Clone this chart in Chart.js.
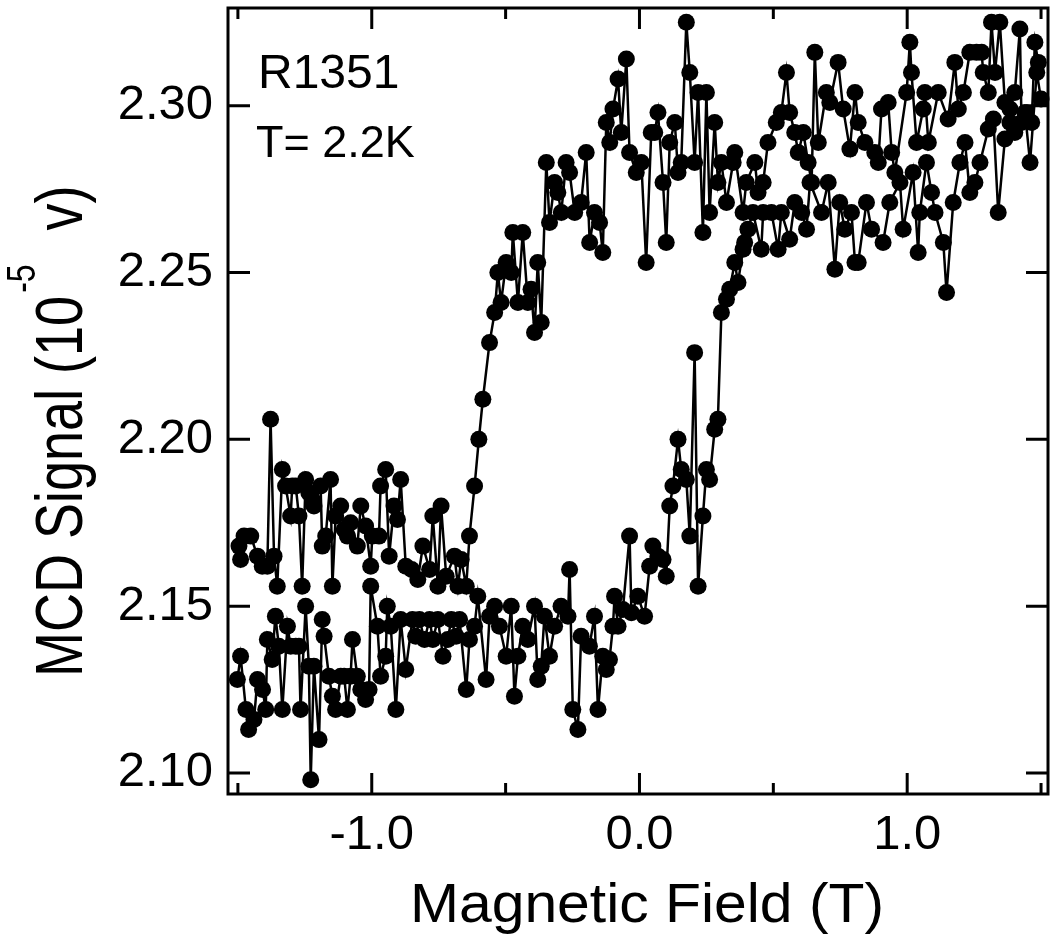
<!DOCTYPE html>
<html>
<head>
<meta charset="utf-8">
<script src="https://cdn.jsdelivr.net/npm/chart.js@4.4.1/dist/chart.umd.min.js"></script>
<style>
    html, body { margin: 0; padding: 0; background: #fff; }
    #wrap { width: 1050px; height: 939px; }
</style>
</head>
<body>
<div id="wrap"><canvas id="mcdChart" width="1050" height="939"></canvas></div>
<script>
// Increasing field sweep (lower branch)
const fieldUp = [
    -1.502, -1.490, -1.470, -1.460, -1.440, -1.427, -1.408, -1.396, -1.390, -1.372,
    -1.360, -1.347, -1.334, -1.315, -1.303, -1.284, -1.272, -1.266, -1.247, -1.235,
    -1.228, -1.216, -1.197, -1.185, -1.178, -1.160, -1.147, -1.135, -1.116, -1.103,
    -1.091, -1.079, -1.072, -1.054, -1.041, -1.023, -1.010, -1.004, -0.979, -0.967,
    -0.948, -0.942, -0.929, -0.910, -0.892, -0.873, -0.848, -0.836, -0.822, -0.803,
    -0.784, -0.772, -0.753, -0.734, -0.716, -0.703, -0.685, -0.672, -0.647, -0.635,
    -0.616, -0.604, -0.573, -0.560, -0.541, -0.523, -0.498, -0.479, -0.467, -0.454,
    -0.436, -0.417, -0.392, -0.380, -0.367, -0.355, -0.336, -0.317, -0.293, -0.267,
    -0.261, -0.249, -0.230, -0.218, -0.187, -0.168, -0.155, -0.137, -0.124, -0.112,
    -0.099, -0.093, -0.080, -0.062, -0.037, -0.030, -0.006, 0.019, 0.038, 0.050,
    0.069, 0.088, 0.100, 0.113, 0.125, 0.144, 0.156, 0.175, 0.188, 0.206,
    0.219, 0.237, 0.250, 0.262, 0.281, 0.293, 0.306, 0.325, 0.337, 0.356,
    0.368, 0.387, 0.393, 0.405, 0.424, 0.455, 0.462, 0.493, 0.518, 0.530,
    0.561, 0.580, 0.606, 0.624, 0.637, 0.680, 0.705, 0.730, 0.748, 0.767,
    0.792, 0.805, 0.817, 0.848, 0.867, 0.910, 0.935, 0.973, 0.985, 1.022,
    1.041, 1.047, 1.072, 1.091, 1.104, 1.135, 1.147, 1.172, 1.197, 1.216,
    1.234, 1.253, 1.272, 1.303, 1.322, 1.340, 1.365, 1.384, 1.402, 1.440,
    1.459, 1.484, 1.500
];
const signalUp = [
    2.128, 2.135, 2.119, 2.113, 2.116, 2.128, 2.125, 2.119, 2.140, 2.134,
    2.147, 2.138, 2.119, 2.144, 2.138, 2.138, 2.138, 2.119, 2.150, 2.132,
    2.098, 2.132, 2.110, 2.146, 2.141, 2.129, 2.123, 2.119, 2.129, 2.129,
    2.119, 2.129, 2.140, 2.129, 2.125, 2.122, 2.125, 2.156, 2.144, 2.129,
    2.135, 2.150, 2.144, 2.119, 2.146, 2.131, 2.146, 2.141, 2.146, 2.140,
    2.146, 2.140, 2.146, 2.135, 2.140, 2.146, 2.141, 2.146, 2.125, 2.140,
    2.144, 2.153, 2.128, 2.147, 2.150, 2.144, 2.135, 2.150, 2.123, 2.135,
    2.144, 2.140, 2.150, 2.128, 2.132, 2.147, 2.135, 2.144, 2.150, 2.147,
    2.161, 2.119, 2.113, 2.141, 2.138, 2.147, 2.119, 2.135, 2.131, 2.134,
    2.144, 2.153, 2.144, 2.149, 2.171, 2.148, 2.153, 2.147, 2.162, 2.168,
    2.165, 2.164, 2.159, 2.180, 2.186, 2.200, 2.191, 2.188, 2.171, 2.226,
    2.156, 2.177, 2.191, 2.188, 2.203, 2.206, 2.238, 2.242, 2.245, 2.253,
    2.247, 2.257, 2.259, 2.263, 2.268, 2.257, 2.268, 2.268, 2.257, 2.268,
    2.260, 2.271, 2.268, 2.263, 2.277, 2.268, 2.277, 2.251, 2.271, 2.263,
    2.268, 2.253, 2.253, 2.271, 2.263, 2.259, 2.271, 2.277, 2.263, 2.280,
    2.256, 2.268, 2.283, 2.274, 2.268, 2.259, 2.244, 2.271, 2.283, 2.289,
    2.274, 2.277, 2.283, 2.293, 2.296, 2.268, 2.290, 2.295, 2.292, 2.298,
    2.283, 2.310, 2.302
];

// Decreasing field sweep (upper branch), listed from low to high field
const fieldDown = [
    -1.496, -1.490, -1.477, -1.452, -1.427, -1.409, -1.390, -1.378, -1.365, -1.353,
    -1.334, -1.322, -1.303, -1.297, -1.284, -1.272, -1.260, -1.247, -1.235, -1.222,
    -1.216, -1.191, -1.185, -1.172, -1.154, -1.147, -1.135, -1.116, -1.103, -1.091,
    -1.079, -1.054, -1.041, -1.023, -1.004, -0.998, -0.973, -0.967, -0.948, -0.935,
    -0.917, -0.904, -0.892, -0.873, -0.851, -0.828, -0.809, -0.784, -0.772, -0.753,
    -0.741, -0.722, -0.691, -0.678, -0.666, -0.647, -0.635, -0.616, -0.600, -0.585,
    -0.560, -0.541, -0.529, -0.517, -0.498, -0.479, -0.473, -0.454, -0.436, -0.417,
    -0.405, -0.392, -0.380, -0.367, -0.348, -0.336, -0.317, -0.305, -0.292, -0.274,
    -0.261, -0.242, -0.218, -0.199, -0.186, -0.168, -0.149, -0.137, -0.124, -0.111,
    -0.099, -0.080, -0.068, -0.049, -0.037, -0.012, 0.007, 0.025, 0.044, 0.057,
    0.069, 0.088, 0.100, 0.113, 0.132, 0.144, 0.156, 0.175, 0.188, 0.206,
    0.219, 0.237, 0.250, 0.262, 0.281, 0.293, 0.306, 0.325, 0.350, 0.356,
    0.387, 0.399, 0.431, 0.443, 0.462, 0.480, 0.511, 0.530, 0.549, 0.561,
    0.580, 0.593, 0.612, 0.630, 0.643, 0.655, 0.668, 0.698, 0.711, 0.742,
    0.761, 0.786, 0.805, 0.817, 0.842, 0.879, 0.892, 0.904, 0.929, 0.942,
    0.954, 0.998, 1.010, 1.016, 1.035, 1.060, 1.066, 1.079, 1.116, 1.153,
    1.178, 1.191, 1.210, 1.234, 1.259, 1.278, 1.284, 1.303, 1.315, 1.328,
    1.346, 1.365, 1.384, 1.402, 1.421, 1.427, 1.465, 1.477, 1.490
];
const signalDown = [
    2.168, 2.164, 2.171, 2.171, 2.165, 2.162, 2.162, 2.206, 2.165, 2.156,
    2.191, 2.186, 2.177, 2.186, 2.186, 2.177, 2.156, 2.188, 2.184, 2.182,
    2.180, 2.186, 2.168, 2.171, 2.188, 2.156, 2.177, 2.180, 2.173, 2.171,
    2.175, 2.168, 2.180, 2.174, 2.162, 2.171, 2.171, 2.186, 2.191, 2.165,
    2.180, 2.176, 2.188, 2.162, 2.161, 2.158, 2.168, 2.161, 2.177, 2.156,
    2.180, 2.159, 2.165, 2.156, 2.164, 2.156, 2.171, 2.186, 2.200, 2.212,
    2.229, 2.238, 2.250, 2.241, 2.253, 2.250, 2.262, 2.241, 2.262, 2.241,
    2.245, 2.232, 2.253, 2.235, 2.283, 2.265, 2.277, 2.274, 2.268, 2.283,
    2.280, 2.268, 2.271, 2.286, 2.259, 2.268, 2.265, 2.256, 2.295, 2.289,
    2.299, 2.308, 2.292, 2.314, 2.286, 2.280, 2.283, 2.253, 2.292, 2.292,
    2.298, 2.277, 2.259, 2.289, 2.295, 2.280, 2.283, 2.325, 2.310, 2.283,
    2.304, 2.262, 2.304, 2.268, 2.295, 2.277, 2.283, 2.271, 2.283, 2.286,
    2.268, 2.277, 2.283, 2.274, 2.277, 2.289, 2.295, 2.298, 2.310, 2.298,
    2.292, 2.286, 2.292, 2.283, 2.277, 2.316, 2.289, 2.304, 2.301, 2.313,
    2.299, 2.287, 2.304, 2.295, 2.289, 2.286, 2.283, 2.299, 2.301, 2.286,
    2.280, 2.304, 2.319, 2.310, 2.289, 2.299, 2.304, 2.289, 2.304, 2.296,
    2.313, 2.299, 2.304, 2.316, 2.316, 2.316, 2.310, 2.304, 2.325, 2.310,
    2.325, 2.301, 2.299, 2.304, 2.323, 2.295, 2.295, 2.319, 2.313
];

// Axis ticks
const xTicks = [-1.5, -1.0, -0.5, 0.0, 0.5, 1.0, 1.5];
const xTickLabels = ['', '-1.0', '', '0.0', '', '1.0', ''];
const yTicks = [2.10, 2.15, 2.20, 2.25, 2.30];
const yTickLabels = ['2.10', '2.15', '2.20', '2.25', '2.30'];
const xRange = [-1.537, 1.526];
const yRange = [2.0937, 2.3293];

const FONT = "'Liberation Sans', Arial, Helvetica, sans-serif";

// Frame, inward ticks, axis titles and labels
const framePlugin = {
    id: 'frame',
    afterDraw(chart) {
        const { ctx, chartArea: a, scales: { x, y } } = chart;
        ctx.save();
        ctx.strokeStyle = '#000';
        ctx.fillStyle = '#000';
        ctx.lineWidth = 3;
        ctx.strokeRect(a.left, a.top, a.right - a.left, a.bottom - a.top);

        ctx.beginPath();
        xTicks.forEach((v, i) => {
            const px = x.getPixelForValue(v);
            const len = xTickLabels[i] ? 21 : 11;
            ctx.moveTo(px, a.bottom); ctx.lineTo(px, a.bottom - len);
            ctx.moveTo(px, a.top); ctx.lineTo(px, a.top + len);
        });
        yTicks.forEach(v => {
            const py = y.getPixelForValue(v);
            ctx.moveTo(a.left, py); ctx.lineTo(a.left + 22, py);
            ctx.moveTo(a.right, py); ctx.lineTo(a.right - 22, py);
        });
        ctx.stroke();

        // x axis title
        ctx.save();
        ctx.translate(647, 922);
        ctx.scale(1.07, 1);
        ctx.font = '55px ' + FONT;
        ctx.textAlign = 'center';
        ctx.textBaseline = 'alphabetic';
        ctx.fillText('Magnetic Field (T)', 0, 0);
        ctx.restore();

        // y axis title with superscript
        ctx.save();
        ctx.translate(82, 677);
        ctx.rotate(-Math.PI / 2);
        ctx.scale(1, 1.25);
        ctx.textAlign = 'left';
        ctx.textBaseline = 'alphabetic';
        ctx.font = '54px ' + FONT;
        const main = 'MCD Signal (10';
        ctx.fillText(main, 0, 0);
        const w1 = ctx.measureText(main).width;
        ctx.font = '32px ' + FONT;
        ctx.fillText('-5', w1 + 3, -38);
        const w2 = ctx.measureText('-5').width;
        ctx.font = '54px ' + FONT;
        ctx.fillText('v)', w1 + 3 + w2 + 34, 0);
        ctx.restore();

        // sample labels
        ctx.textAlign = 'left';
        ctx.textBaseline = 'alphabetic';
        ctx.font = '48px ' + FONT;
        ctx.fillText('R1351', 258, 88);
        ctx.font = '45px ' + FONT;
        ctx.fillText('T= 2.2K', 256, 157);
        ctx.restore();
    }
};

const toPoints = (xs, ys) => xs.map((v, i) => ({ x: v, y: ys[i] }));

const seriesStyle = {
    borderColor: '#000',
    backgroundColor: '#000',
    borderWidth: 2.5,
    pointRadius: 8.5,
    pointHoverRadius: 8.5,
    pointBorderWidth: 0,
    tension: 0,
    clip: false
};

const ctx = document.getElementById('mcdChart').getContext('2d');
new Chart(ctx, {
    type: 'line',
    data: {
        datasets: [
            Object.assign({ label: 'Increasing field', data: toPoints(fieldUp, signalUp) }, seriesStyle),
            Object.assign({ label: 'Decreasing field', data: toPoints(fieldDown, signalDown) }, seriesStyle)
        ]
    },
    options: {
        responsive: false,
        animation: false,
        devicePixelRatio: 1,
        layout: { autoPadding: false, padding: { top: 8, right: 2, left: 0, bottom: 0 } },
        plugins: { legend: { display: false }, tooltip: { enabled: false } },
        scales: {
            x: {
                type: 'linear',
                min: xRange[0],
                max: xRange[1],
                grid: { display: false, drawTicks: false },
                border: { display: false },
                afterBuildTicks: s => { s.ticks = xTicks.map(v => ({ value: v })); },
                afterFit: s => {
                    s.height = 145;
                    s.paddingLeft = 0;
                    s.paddingRight = 0;
                },
                ticks: {
                    autoSkip: false,
                    maxRotation: 0,
                    padding: 12,
                    color: '#000',
                    font: { family: FONT, size: 49 },
                    callback: (v, i) => xTickLabels[i]
                }
            },
            y: {
                type: 'linear',
                min: yRange[0],
                max: yRange[1],
                grid: { display: false, drawTicks: false },
                border: { display: false },
                afterBuildTicks: s => { s.ticks = yTicks.map(v => ({ value: v })); },
                afterFit: s => {
                    s.width = 228;
                    s.paddingTop = 0;
                    s.paddingBottom = 0;
                },
                ticks: {
                    autoSkip: false,
                    padding: 15,
                    color: '#000',
                    font: { family: FONT, size: 49 },
                    callback: (v, i) => yTickLabels[i]
                }
            }
        }
    },
    plugins: [framePlugin]
});
</script>
</body>
</html>
